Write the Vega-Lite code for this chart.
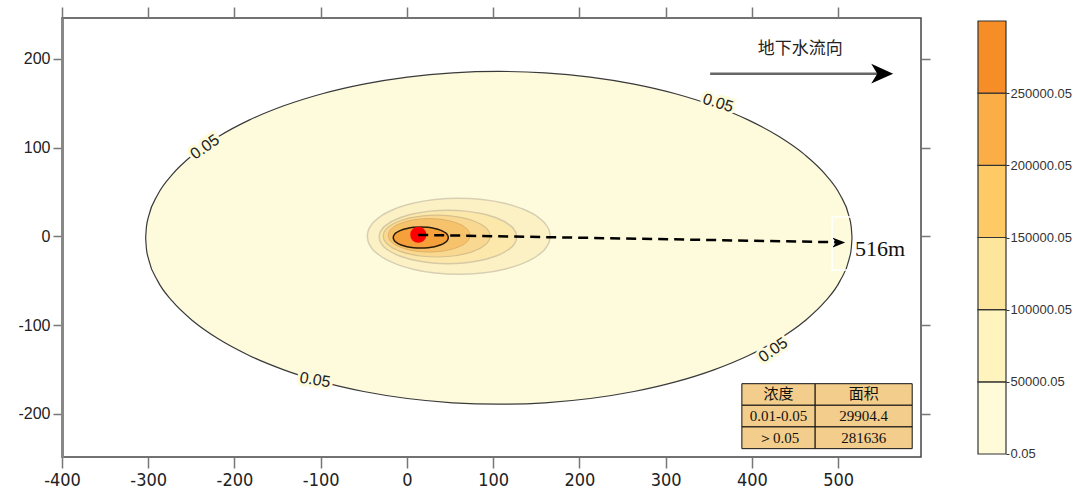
{
  "$schema": "https://vega.github.io/schema/vega-lite/v6.json",
  "background": "white",
  "padding": {"left": 17, "top": 5, "right": 0, "bottom": 0},
  "spacing": 57,
  "bounds": "flush",
  "config": {"axis": {"grid": false, "labelFlush": false}, "view": {"stroke": null}},
  "datasets": {
    "big": [
      {"x": 516, "top": -1.5, "bot": -1.5}, {"x": 515.1, "top": 10.76, "bot": -13.76}, {"x": 512.5, "top": 22.97, "bot": -25.97},
      {"x": 502.1, "top": 47.03, "bot": -50.03}, {"x": 484.8, "top": 70.25, "bot": -73.25}, {"x": 461.1, "top": 92.25, "bot": -95.25},
      {"x": 431.4, "top": 112.64, "bot": -115.64}, {"x": 396.1, "top": 131.08, "bot": -134.08}, {"x": 355.8, "top": 147.25, "bot": -150.25},
      {"x": 311.25, "top": 160.88, "bot": -163.88}, {"x": 263.2, "top": 171.73, "bot": -174.73}, {"x": 212.5, "top": 179.61, "bot": -182.61},
      {"x": 159.95, "top": 184.4, "bot": -187.4}, {"x": 106.5, "top": 186, "bot": -189}, {"x": 53.05, "top": 184.4, "bot": -187.4},
      {"x": 0.5, "top": 179.61, "bot": -182.61}, {"x": -50.2, "top": 171.73, "bot": -174.73}, {"x": -98.25, "top": 160.88, "bot": -163.88},
      {"x": -142.8, "top": 147.25, "bot": -150.25}, {"x": -183.1, "top": 131.08, "bot": -134.08}, {"x": -218.4, "top": 112.64, "bot": -115.64},
      {"x": -248.1, "top": 92.25, "bot": -95.25}, {"x": -271.8, "top": 70.25, "bot": -73.25}, {"x": -289.1, "top": 47.03, "bot": -50.03},
      {"x": -299.5, "top": 22.97, "bot": -25.97}, {"x": -302.1, "top": 10.76, "bot": -13.76}, {"x": -303, "top": -1.5, "bot": -1.5}
    ],
    "inner": [
      {"lev": 1, "x": 166, "top": 0.3, "bot": 0.3}, {"lev": 1, "x": 165.1, "top": 5.9, "bot": -5.3}, {"lev": 1, "x": 162.4, "top": 11.4, "bot": -10.8},
      {"lev": 1, "x": 151.8, "top": 21.75, "bot": -21.15}, {"lev": 1, "x": 135.0, "top": 30.63, "bot": -30.03}, {"lev": 1, "x": 113.0, "top": 37.45, "bot": -36.85},
      {"lev": 1, "x": 87.4, "top": 41.74, "bot": -41.14}, {"lev": 1, "x": 60, "top": 43.2, "bot": -42.6}, {"lev": 1, "x": 32.6, "top": 41.74, "bot": -41.14},
      {"lev": 1, "x": 7, "top": 37.45, "bot": -36.85}, {"lev": 1, "x": -15.0, "top": 30.63, "bot": -30.03}, {"lev": 1, "x": -31.8, "top": 21.75, "bot": -21.15},
      {"lev": 1, "x": -42.4, "top": 11.4, "bot": -10.8}, {"lev": 1, "x": -45.1, "top": 5.9, "bot": -5.3}, {"lev": 1, "x": -46, "top": 0.3, "bot": 0.3},

      {"lev": 2, "x": 127.2, "top": -0.5, "bot": -0.5}, {"lev": 2, "x": 126.5, "top": 3.43, "bot": -4.43}, {"lev": 2, "x": 124.5, "top": 7.29, "bot": -8.29},
      {"lev": 2, "x": 116.5, "top": 14.55, "bot": -15.55}, {"lev": 2, "x": 103.9, "top": 20.78, "bot": -21.78}, {"lev": 2, "x": 87.4, "top": 25.57, "bot": -26.57},
      {"lev": 2, "x": 68.1, "top": 28.57, "bot": -29.57}, {"lev": 2, "x": 47.5, "top": 29.6, "bot": -30.6}, {"lev": 2, "x": 26.9, "top": 28.57, "bot": -29.57},
      {"lev": 2, "x": 7.7, "top": 25.57, "bot": -26.57}, {"lev": 2, "x": -8.9, "top": 20.78, "bot": -21.78}, {"lev": 2, "x": -21.5, "top": 14.55, "bot": -15.55},
      {"lev": 2, "x": -29.5, "top": 7.29, "bot": -8.29}, {"lev": 2, "x": -31.5, "top": 3.43, "bot": -4.43}, {"lev": 2, "x": -32.2, "top": -0.5, "bot": -0.5},

      {"lev": 3, "x": 96.3, "top": 0.5, "bot": 0.5}, {"lev": 3, "x": 95.8, "top": 3.58, "bot": -2.58}, {"lev": 3, "x": 94.2, "top": 6.61, "bot": -5.61},
      {"lev": 3, "x": 88.0, "top": 12.3, "bot": -11.3}, {"lev": 3, "x": 78.2, "top": 17.19, "bot": -16.19}, {"lev": 3, "x": 65.4, "top": 20.94, "bot": -19.94},
      {"lev": 3, "x": 50.4, "top": 23.3, "bot": -22.3}, {"lev": 3, "x": 34.4, "top": 24.1, "bot": -23.1}, {"lev": 3, "x": 18.4, "top": 23.3, "bot": -22.3},
      {"lev": 3, "x": 3.5, "top": 20.94, "bot": -19.94}, {"lev": 3, "x": -9.4, "top": 17.19, "bot": -16.19}, {"lev": 3, "x": -19.2, "top": 12.3, "bot": -11.3},
      {"lev": 3, "x": -25.4, "top": 6.61, "bot": -5.61}, {"lev": 3, "x": -27.0, "top": 3.58, "bot": -2.58}, {"lev": 3, "x": -27.5, "top": 0.5, "bot": 0.5},

      {"lev": 4, "x": 73.1, "top": 1.3, "bot": 1.3}, {"lev": 4, "x": 72.7, "top": 3.75, "bot": -1.15}, {"lev": 4, "x": 71.5, "top": 6.17, "bot": -3.57},
      {"lev": 4, "x": 66.8, "top": 10.7, "bot": -8.1}, {"lev": 4, "x": 59.2, "top": 14.59, "bot": -11.99}, {"lev": 4, "x": 49.4, "top": 17.58, "bot": -14.98},
      {"lev": 4, "x": 38.0, "top": 19.46, "bot": -16.86}, {"lev": 4, "x": 25.7, "top": 20.1, "bot": -17.5}, {"lev": 4, "x": 13.4, "top": 19.46, "bot": -16.86},
      {"lev": 4, "x": 2.0, "top": 17.58, "bot": -14.98}, {"lev": 4, "x": -7.8, "top": 14.59, "bot": -11.99}, {"lev": 4, "x": -15.4, "top": 10.7, "bot": -8.1},
      {"lev": 4, "x": -20.1, "top": 6.17, "bot": -3.57}, {"lev": 4, "x": -21.3, "top": 3.75, "bot": -1.15}, {"lev": 4, "x": -21.7, "top": 1.3, "bot": 1.3},

      {"lev": 5, "x": 47.9, "top": -1.2, "bot": -1.2}, {"lev": 5, "x": 47.6, "top": 0.35, "bot": -2.75}, {"lev": 5, "x": 46.8, "top": 1.88, "bot": -4.28},
      {"lev": 5, "x": 43.6, "top": 4.75, "bot": -7.15}, {"lev": 5, "x": 38.6, "top": 7.21, "bot": -9.61}, {"lev": 5, "x": 32.0, "top": 9.11, "bot": -11.51},
      {"lev": 5, "x": 24.3, "top": 10.29, "bot": -12.69}, {"lev": 5, "x": 16, "top": 10.7, "bot": -13.1}, {"lev": 5, "x": 7.7, "top": 10.29, "bot": -12.69},
      {"lev": 5, "x": 0.05, "top": 9.11, "bot": -11.51}, {"lev": 5, "x": -6.6, "top": 7.21, "bot": -9.61}, {"lev": 5, "x": -11.6, "top": 4.75, "bot": -7.15},
      {"lev": 5, "x": -14.8, "top": 1.88, "bot": -4.28}, {"lev": 5, "x": -15.6, "top": 0.35, "bot": -2.75}, {"lev": 5, "x": -15.9, "top": -1.2, "bot": -1.2}
    ],
    "dash": [{"x": 13, "y": 1.8}, {"x": 500, "y": -6.5}],
    "dashHead": [{"x": 500.6, "y": -6.9}],
    "source": [{"x": 13.1, "y": 2.0}],
    "flow": [{"x": 351.5, "y": 183.4}, {"x": 551, "y": 183.4}],
    "flowHead": [{"x": 551, "y": 183.4}],
    "flowText": [{"x": 455.9, "y": 211.5, "label": "地下水流向"}],
    "clabels": [
      {"id": "a", "x": -234.2, "y": 100.8, "label": "0.05"},
      {"id": "b", "x": 360.8, "y": 150.4, "label": "0.05"},
      {"id": "c", "x": 424.6, "y": -127.9, "label": "0.05"},
      {"id": "d", "x": -106.6, "y": -161.7, "label": "0.05"}
    ],
    "dist": [{"x": 548.5, "y": -14.1, "label": "516m"}],
    "box": [{"x1": 493, "x2": 594, "y1": 22, "y2": -37.7}],
    "table": [
      {"row": 1, "x1": 388.3, "x2": 473.3, "y1": -165.9, "y2": -190.2, "cx": 430.8, "cy": -178.0, "label": "浓度"},
      {"row": 1, "x1": 473.3, "x2": 585.8, "y1": -165.9, "y2": -190.2, "cx": 529.6, "cy": -178.0, "label": "面积"},
      {"row": 2, "x1": 388.3, "x2": 473.3, "y1": -190.2, "y2": -214.6, "cx": 430.8, "cy": -202.4, "label": "0.01-0.05"},
      {"row": 2, "x1": 473.3, "x2": 585.8, "y1": -190.2, "y2": -214.6, "cx": 529.6, "cy": -202.4, "label": "29904.4"},
      {"row": 3, "x1": 388.3, "x2": 473.3, "y1": -214.6, "y2": -239.1, "cx": 430.8, "cy": -226.9, "label": "＞0.05"},
      {"row": 3, "x1": 473.3, "x2": 585.8, "y1": -214.6, "y2": -239.1, "cx": 529.6, "cy": -226.9, "label": "281636"}
    ],
    "bands": [
      {"band": 1, "lo": 0.05, "hi": 50000.05},
      {"band": 2, "lo": 50000.05, "hi": 100000.05},
      {"band": 3, "lo": 100000.05, "hi": 150000.05},
      {"band": 4, "lo": 150000.05, "hi": 200000.05},
      {"band": 5, "lo": 200000.05, "hi": 250000.05},
      {"band": 6, "lo": 250000.05, "hi": 300000.05}
    ]
  },
  "hconcat": [
    {
      "width": 859,
      "height": 439,
      "view": {"stroke": "#444", "strokeWidth": 1.5},
      "resolve": {"axis": {"x": "independent", "y": "independent"}},
      "layer": [
        {
          "layer": [
            {
              "data": {"name": "big"},
              "mark": {"type": "area", "interpolate": "monotone", "fill": "#fefbdc", "stroke": "#3a3a3a", "strokeWidth": 1.2},
              "encoding": {
                "x": {"field": "x", "type": "quantitative", "title": null,
                  "scale": {"domain": [-400, 596], "nice": false, "zero": false},
                  "axis": {"orient": "bottom", "values": [-400, -300, -200, -100, 0, 100, 200, 300, 400, 500], "domain": false, "labelFlush": false,
                    "labelExpr": "datum.value < 0 ? '-' + abs(datum.value) : '' + datum.value",
                    "tickSize": 11, "tickColor": "#777", "tickWidth": 1.5, "labelFont": "Liberation Sans Narrow, DejaVu Sans Condensed, sans-serif",
                    "labelFontSize": 18, "labelColor": "#222", "labelPadding": 3}},
                "y": {"field": "top", "type": "quantitative", "title": null,
                  "scale": {"domain": [-248.5, 246.2], "nice": false, "zero": false},
                  "axis": {"orient": "left", "values": [-200, -100, 0, 100, 200], "domain": true, "domainColor": "#888", "domainWidth": 3, "labelFlush": false,
                    "labelExpr": "datum.value < 0 ? '-' + abs(datum.value) : '' + datum.value",
                    "tickSize": 9, "tickColor": "#777", "tickWidth": 1.5, "labelFont": "Liberation Sans, Arial, sans-serif",
                    "labelFontSize": 16, "labelColor": "#222", "labelPadding": 3}},
                "y2": {"field": "bot"}
              }
            },
            {"data": {"name": "inner"}, "transform": [{"filter": "datum.lev == 1"}],
              "mark": {"type": "area", "interpolate": "monotone", "fill": "#fcf1c4", "stroke": "#d8cfb2", "strokeWidth": 1.5},
              "encoding": {"x": {"field": "x", "type": "quantitative", "title": null}, "y": {"field": "top", "type": "quantitative", "title": null}, "y2": {"field": "bot"}}},
            {"data": {"name": "inner"}, "transform": [{"filter": "datum.lev == 2"}],
              "mark": {"type": "area", "interpolate": "monotone", "fill": "#fbe8aa", "stroke": "#d6c9a6", "strokeWidth": 1.5},
              "encoding": {"x": {"field": "x", "type": "quantitative", "title": null}, "y": {"field": "top", "type": "quantitative", "title": null}, "y2": {"field": "bot"}}},
            {"data": {"name": "inner"}, "transform": [{"filter": "datum.lev == 3"}],
              "mark": {"type": "area", "interpolate": "monotone", "fill": "#f9d991", "stroke": "#d8c08e", "strokeWidth": 1.2},
              "encoding": {"x": {"field": "x", "type": "quantitative", "title": null}, "y": {"field": "top", "type": "quantitative", "title": null}, "y2": {"field": "bot"}}},
            {"data": {"name": "inner"}, "transform": [{"filter": "datum.lev == 4"}],
              "mark": {"type": "area", "interpolate": "monotone", "fill": "#f7c26c", "stroke": "#e0b064", "strokeWidth": 1},
              "encoding": {"x": {"field": "x", "type": "quantitative", "title": null}, "y": {"field": "top", "type": "quantitative", "title": null}, "y2": {"field": "bot"}}},
            {"data": {"name": "inner"}, "transform": [{"filter": "datum.lev == 5"}],
              "mark": {"type": "area", "interpolate": "monotone", "fill": "#f5a03a", "stroke": "#2a1c0a", "strokeWidth": 1.5},
              "encoding": {"x": {"field": "x", "type": "quantitative", "title": null}, "y": {"field": "top", "type": "quantitative", "title": null}, "y2": {"field": "bot"}}},
            {"data": {"name": "source"},
              "mark": {"type": "point", "shape": "circle", "filled": true, "color": "#ff0000", "size": 260, "opacity": 1},
              "encoding": {"x": {"field": "x", "type": "quantitative", "title": null}, "y": {"field": "y", "type": "quantitative", "title": null}}},
            {"data": {"name": "dash"},
              "mark": {"type": "line", "color": "#000", "strokeWidth": 2.5, "strokeDash": [10, 6]},
              "encoding": {"x": {"field": "x", "type": "quantitative", "title": null}, "y": {"field": "y", "type": "quantitative", "title": null}}},
            {"data": {"name": "dashHead"},
              "mark": {"type": "point", "shape": "M 1 0 L -1 -0.8 L -0.4 0 L -1 0.8 Z", "filled": true, "color": "#000", "size": 170, "opacity": 1},
              "encoding": {"x": {"field": "x", "type": "quantitative", "title": null}, "y": {"field": "y", "type": "quantitative", "title": null}}},
            {"data": {"name": "box"},
              "mark": {"type": "rect", "fill": null, "fillOpacity": 0, "stroke": "#ffffff", "strokeWidth": 1.5},
              "encoding": {"x": {"field": "x1", "type": "quantitative", "title": null}, "x2": {"field": "x2"}, "y": {"field": "y1", "type": "quantitative", "title": null}, "y2": {"field": "y2"}}},
            {"data": {"name": "dist"},
              "mark": {"type": "text", "font": "Liberation Serif, Times New Roman, serif", "fontSize": 22, "color": "#111", "align": "center", "baseline": "middle"},
              "encoding": {"x": {"field": "x", "type": "quantitative", "title": null}, "y": {"field": "y", "type": "quantitative", "title": null}, "text": {"field": "label"}}},
            {"data": {"name": "flow"},
              "mark": {"type": "line", "color": "#666", "strokeWidth": 2.5},
              "encoding": {"x": {"field": "x", "type": "quantitative", "title": null}, "y": {"field": "y", "type": "quantitative", "title": null}}},
            {"data": {"name": "flowHead"},
              "mark": {"type": "point", "shape": "M 1 0 L -1 -0.9 L -0.45 0 L -1 0.9 Z", "filled": true, "color": "#000", "size": 480, "opacity": 1},
              "encoding": {"x": {"field": "x", "type": "quantitative", "title": null}, "y": {"field": "y", "type": "quantitative", "title": null}}},
            {"data": {"name": "flowText"},
              "mark": {"type": "text", "font": "Noto Sans CJK SC", "fontSize": 17, "color": "#222", "align": "center", "baseline": "middle"},
              "encoding": {"x": {"field": "x", "type": "quantitative", "title": null}, "y": {"field": "y", "type": "quantitative", "title": null}, "text": {"field": "label"}}},
            {"data": {"name": "clabels"}, "transform": [{"filter": "datum.id == 'a'"}],
              "encoding": {"x": {"field": "x", "type": "quantitative", "title": null}, "y": {"field": "y", "type": "quantitative", "title": null}, "text": {"field": "label"}},
              "layer": [
                {"mark": {"type": "text", "angle": -35, "font": "Liberation Sans, Arial, sans-serif", "fontSize": 16, "fill": "#fefbdc", "stroke": "#fefbdc", "strokeWidth": 6, "align": "center", "baseline": "middle"}},
                {"mark": {"type": "text", "angle": -35, "font": "Liberation Sans, Arial, sans-serif", "fontSize": 16, "color": "#222", "align": "center", "baseline": "middle"}}
              ]},
            {"data": {"name": "clabels"}, "transform": [{"filter": "datum.id == 'b'"}],
              "encoding": {"x": {"field": "x", "type": "quantitative", "title": null}, "y": {"field": "y", "type": "quantitative", "title": null}, "text": {"field": "label"}},
              "layer": [
                {"mark": {"type": "text", "angle": 17, "font": "Liberation Sans, Arial, sans-serif", "fontSize": 16, "fill": "#fefbdc", "stroke": "#fefbdc", "strokeWidth": 6, "align": "center", "baseline": "middle"}},
                {"mark": {"type": "text", "angle": 17, "font": "Liberation Sans, Arial, sans-serif", "fontSize": 16, "color": "#222", "align": "center", "baseline": "middle"}}
              ]},
            {"data": {"name": "clabels"}, "transform": [{"filter": "datum.id == 'c'"}],
              "encoding": {"x": {"field": "x", "type": "quantitative", "title": null}, "y": {"field": "y", "type": "quantitative", "title": null}, "text": {"field": "label"}},
              "layer": [
                {"mark": {"type": "text", "angle": -35, "font": "Liberation Sans, Arial, sans-serif", "fontSize": 16, "fill": "#fefbdc", "stroke": "#fefbdc", "strokeWidth": 6, "align": "center", "baseline": "middle"}},
                {"mark": {"type": "text", "angle": -35, "font": "Liberation Sans, Arial, sans-serif", "fontSize": 16, "color": "#222", "align": "center", "baseline": "middle"}}
              ]},
            {"data": {"name": "clabels"}, "transform": [{"filter": "datum.id == 'd'"}],
              "encoding": {"x": {"field": "x", "type": "quantitative", "title": null}, "y": {"field": "y", "type": "quantitative", "title": null}, "text": {"field": "label"}},
              "layer": [
                {"mark": {"type": "text", "angle": 9, "font": "Liberation Sans, Arial, sans-serif", "fontSize": 16, "fill": "#fefbdc", "stroke": "#fefbdc", "strokeWidth": 6, "align": "center", "baseline": "middle"}},
                {"mark": {"type": "text", "angle": 9, "font": "Liberation Sans, Arial, sans-serif", "fontSize": 16, "color": "#222", "align": "center", "baseline": "middle"}}
              ]},
            {"data": {"name": "table"},
              "mark": {"type": "rect", "fill": "#f2cd8b", "stroke": "#111", "strokeWidth": 1},
              "encoding": {"x": {"field": "x1", "type": "quantitative", "title": null}, "x2": {"field": "x2"}, "y": {"field": "y1", "type": "quantitative", "title": null}, "y2": {"field": "y2"}}},
            {"data": {"name": "table"}, "transform": [{"filter": "datum.row == 1"}],
              "mark": {"type": "text", "font": "Noto Sans CJK SC", "fontSize": 15, "color": "#111", "align": "center", "baseline": "middle"},
              "encoding": {"x": {"field": "cx", "type": "quantitative", "title": null}, "y": {"field": "cy", "type": "quantitative", "title": null}, "text": {"field": "label"}}},
            {"data": {"name": "table"}, "transform": [{"filter": "datum.row > 1"}],
              "mark": {"type": "text", "font": "Liberation Serif, Times New Roman, serif", "fontSize": 15, "color": "#111", "align": "center", "baseline": "middle"},
              "encoding": {"x": {"field": "cx", "type": "quantitative", "title": null}, "y": {"field": "cy", "type": "quantitative", "title": null}, "text": {"field": "label"}}}
          ]
        },
        {
          "data": {"name": "big"},
          "mark": {"type": "point", "opacity": 0},
          "encoding": {
            "x": {"field": "x", "type": "quantitative", "title": null,
              "axis": {"orient": "top", "values": [-400, -300, -200, -100, 0, 100, 200, 300, 400, 500], "labels": false, "domain": false,
                "tickSize": 11, "tickColor": "#777", "tickWidth": 1.5}},
            "y": {"field": "top", "type": "quantitative", "title": null,
              "axis": {"orient": "right", "values": [-200, -100, 0, 100, 200], "labels": false, "domain": false,
                "tickSize": 9, "tickColor": "#777", "tickWidth": 1.5}}
          }
        }
      ]
    },
    {
      "width": 28,
      "height": 439,
      "view": {"stroke": null},
      "data": {"name": "bands"},
      "mark": {"type": "rect", "stroke": "#333", "strokeWidth": 1.2},
      "encoding": {
        "y": {"field": "lo", "type": "quantitative", "title": null,
          "scale": {"domain": [-2078.5, 302078.6], "nice": false, "zero": false},
          "axis": {"orient": "right", "values": [0.05, 50000.05, 100000.05, 150000.05, 200000.05, 250000.05], "format": ".2f",
            "domain": false, "tickSize": 3, "tickColor": "#333", "labelFont": "Liberation Sans, Arial, sans-serif", "labelFontSize": 13,
            "labelColor": "#333", "labelPadding": 1, "labelFlush": false}},
        "y2": {"field": "hi"},
        "color": {"field": "band", "type": "ordinal", "legend": null,
          "scale": {"domain": [1, 2, 3, 4, 5, 6], "range": ["#fffbd9", "#fff4bd", "#fde69b", "#fdca66", "#fbae45", "#f68d27"]}}
      }
    }
  ]
}
